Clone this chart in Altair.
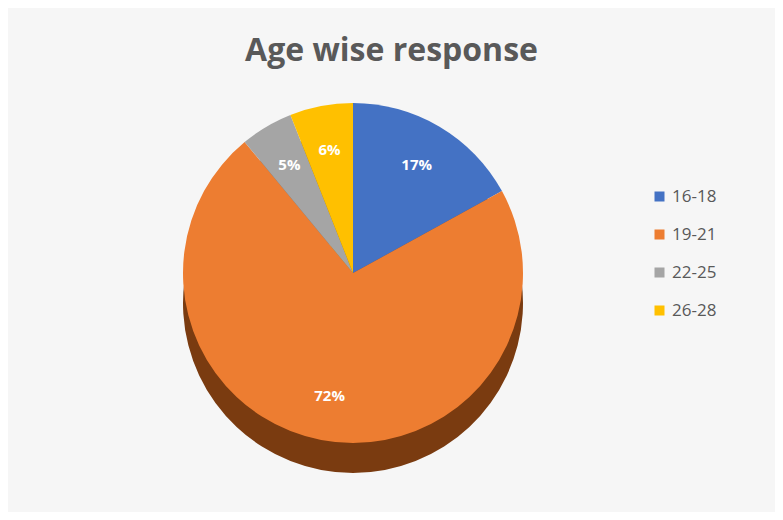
import altair as alt
import pandas as pd

ages = ["16-18", "19-21", "22-25", "26-28"]
shares = [17, 72, 5, 6]
labels = ["17%", "72%", "5%", "6%"]
colors = ["#4472C4", "#ED7D31", "#A5A5A5", "#FFC000"]
side_colors = ["#2a4a85", "#7a3b10", "#6b6b6b", "#a37a00"]

df = pd.DataFrame({"age": ages, "share": shares, "label": labels,
                   "side": side_colors, "idx": list(range(len(ages)))})

CX, CY, R = 345, 195, 170

theta = alt.Theta("share:Q", stack=True)
order = alt.Order("idx:O")

side = alt.Chart(df).mark_arc(outerRadius=R, yOffset=30).encode(
    theta=theta, order=order,
    color=alt.Color("side:N", scale=None, legend=None),
    x=alt.value(CX), y=alt.value(CY),
)

top = alt.Chart(df).mark_arc(outerRadius=R).encode(
    theta=theta, order=order,
    color=alt.Color("age:N", scale=alt.Scale(domain=ages, range=colors),
                    legend=alt.Legend(title=None, orient="none", legendX=643, legendY=110,
                                      symbolType="square", symbolSize=100,
                                      labelFontSize=17, labelColor="#595959",
                                      labelFont="Open Sans", rowPadding=20,
                                      labelOffset=4, symbolStrokeWidth=0)),
    x=alt.value(CX), y=alt.value(CY),
)

text = alt.Chart(df).mark_text(radius=125, fontSize=15, fontWeight="bold",
                               color="white", font="Open Sans").encode(
    theta=theta, order=order, text="label:N",
    x=alt.value(CX), y=alt.value(CY),
)

chart = alt.layer(side, top, text).resolve_scale(color="independent").properties(
    width=767, height=434,
    padding={"left": 0, "top": 70, "right": 0, "bottom": 0},
    autosize=alt.AutoSizeParams(type="none"),
    background="#f6f6f6",
    title=alt.Title("Age wise response", fontSize=32, font="Open Sans",
                    fontWeight="bold", color="#595959", anchor="middle", offset=10),
).configure_view(stroke=None)

chart.save("out.html", embed_options={"renderer": "svg", "actions": False})
